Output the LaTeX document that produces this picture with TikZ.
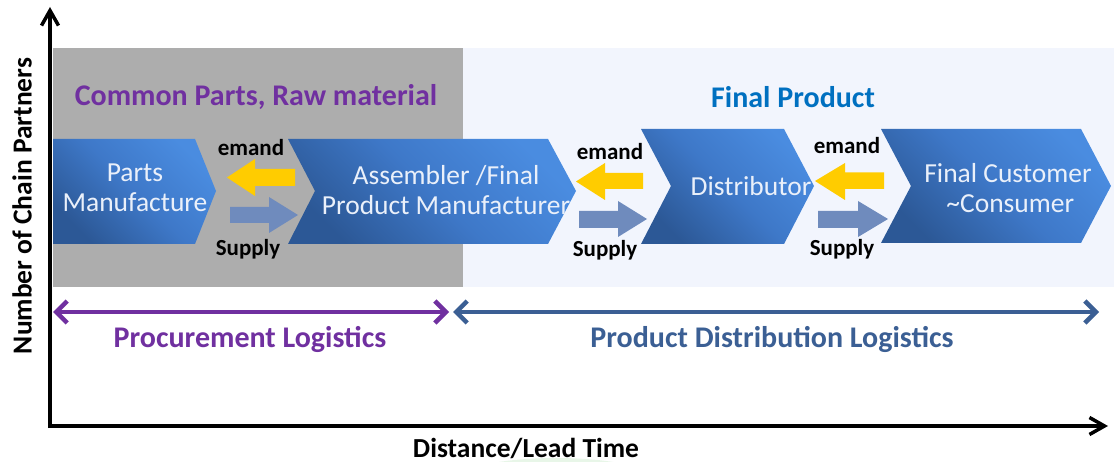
\documentclass[tikz,border=0pt]{standalone}
\usepackage{fontspec}
\setmainfont{Carlito}
\usetikzlibrary{arrows.meta}
\definecolor{grayband}{HTML}{ADADAD}
\definecolor{lightband}{HTML}{F2F5FD}
\definecolor{purp}{HTML}{7030A0}
\definecolor{fpblue}{HTML}{0070C0}
\definecolor{distblue}{HTML}{3B5F94}
\definecolor{chevdark}{HTML}{2C5896}
\definecolor{chevmid}{HTML}{3E78C8}
\definecolor{chevlight}{HTML}{4A8CE0}
\definecolor{demandyellow}{HTML}{FFCC00}
\definecolor{supplyblue}{HTML}{6F8BBD}
\definecolor{chevtext}{HTML}{EAF0FA}
\definecolor{softgreen}{HTML}{E8F6E8}
\tikzset{
  chev/.style={top color=chevlight, bottom color=chevdark, middle color=chevmid, shading angle=-45, draw=none},
  chevlabel/.style={text=chevtext, align=center, font=\fontsize{27.5}{30}\selectfont, inner sep=0pt},
  heading/.style={font=\bfseries\fontsize{30}{32}\selectfont, inner sep=0pt},
  axislabel/.style={font=\bfseries\fontsize{27.5}{30}\selectfont, inner sep=0pt},
  flowlabel/.style={font=\bfseries\fontsize{23}{26}\selectfont, inner sep=0pt},
  demandarrow/.style={fill=demandyellow, draw=none},
  supplyarrow/.style={fill=supplyblue, draw=none},
  axisline/.style={line width=3.5pt, -{Straight Barb[length=15pt,width=17pt]}},
  spanarrow/.style={line width=4.5pt, {Straight Barb[length=11pt,width=22pt]}-{Straight Barb[length=11pt,width=22pt]}},
}
\begin{document}
\begin{tikzpicture}[x=1pt,y=-1pt]
\clip (0,0) rectangle (1114,462);
\fill[white] (0,0) rectangle (1114,462);
% soft green blob at bottom
\fill[softgreen] (556,478) ellipse [x radius=95, y radius=20];
% background bands
\fill[grayband] (53,48) rectangle (463,287);
\fill[lightband] (463,48) rectangle (1114,287);
% headings
\node[heading, text=purp] (hcommon) at (256,97) {Common Parts, Raw material};
\node[heading, text=fpblue] (hfinal) at (793,97) {Final Product};
% chevrons
\shade[chev] (53,139) -- (195,139) -- (216,191) -- (195,244) -- (53,244) -- cycle;
\shade[chev] (288,139) -- (548,139) -- (576,191) -- (548,244) -- (288,244) -- (315,191) -- cycle;
\shade[chev] (641,129) -- (784,129) -- (814,186) -- (784,244) -- (641,244) -- (671,186) -- cycle;
\shade[chev] (881,129) -- (1081,129) -- (1111,186) -- (1081,243) -- (881,243) -- (911,186) -- cycle;
\node[chevlabel] (parts) at (135,188) {Parts\\Manufacture};
\node[chevlabel] (assembler) at (446,190) {Assembler /Final\\Product Manufacturer};
\node[chevlabel] (distributor) at (751,186) {Distributor};
\node[chevlabel] (customer) at (1008,188) {Final Customer\\\,\textasciitilde Consumer};
% demand arrows (left-pointing)
\fill[demandarrow] (227,177.5) -- (255,159) -- (255,169) -- (295,169) -- (295,186) -- (255,186) -- (255,196) -- cycle;
\fill[demandarrow] (576,181.5) -- (605,163) -- (605,173) -- (643,173) -- (643,189) -- (605,189) -- (605,200) -- cycle;
\fill[demandarrow] (815,181) -- (845,163) -- (845,172.5) -- (884,172.5) -- (884,189) -- (845,189) -- (845,200) -- cycle;
% supply arrows (right-pointing)
\fill[supplyarrow] (230,207) -- (269,207) -- (269,197) -- (298,215) -- (269,233) -- (269,223) -- (230,223) -- cycle;
\fill[supplyarrow] (579,211) -- (618,211) -- (618,201) -- (647,219) -- (618,237) -- (618,228) -- (579,228) -- cycle;
\fill[supplyarrow] (818,211) -- (858,211) -- (858,201) -- (888,219) -- (858,237) -- (858,228) -- (818,228) -- cycle;
% flow labels
\node[flowlabel] (dem1) at (251,148) {emand};
\node[flowlabel] (sup1) at (248,249) {Supply};
\node[flowlabel] (dem2) at (610,152) {emand};
\node[flowlabel] (sup2) at (605,250) {Supply};
\node[flowlabel] (dem3) at (847,146) {emand};
\node[flowlabel] (sup3) at (842,249) {Supply};
% span arrows
\coordinate (procL) at (53,312);
\coordinate (procR) at (449,312);
\coordinate (distL) at (453,312);
\coordinate (distR) at (1099,312);
\draw[spanarrow, purp] (procL) -- (procR);
\draw[spanarrow, distblue] (distL) -- (distR);
\node[heading, text=purp] (proclab) at (250,339) {Procurement Logistics};
\node[heading, text=distblue] (distlab) at (772,339) {Product Distribution Logistics};
% axes
\coordinate (origin) at (50,426);
\coordinate (ytop) at (50,7);
\coordinate (xend) at (1108,426);
\coordinate (ystart) at (50,428);
\coordinate (xstart) at (48,426);
\draw[axisline] (ystart) -- (ytop);
\draw[axisline] (xstart) -- (xend);
\node[axislabel] (xlab) at (526,448) {Distance/Lead Time};
\node[axislabel, rotate=90] (ylab) at (22,206) {Number of Chain Partners};
\end{tikzpicture}
\end{document}
